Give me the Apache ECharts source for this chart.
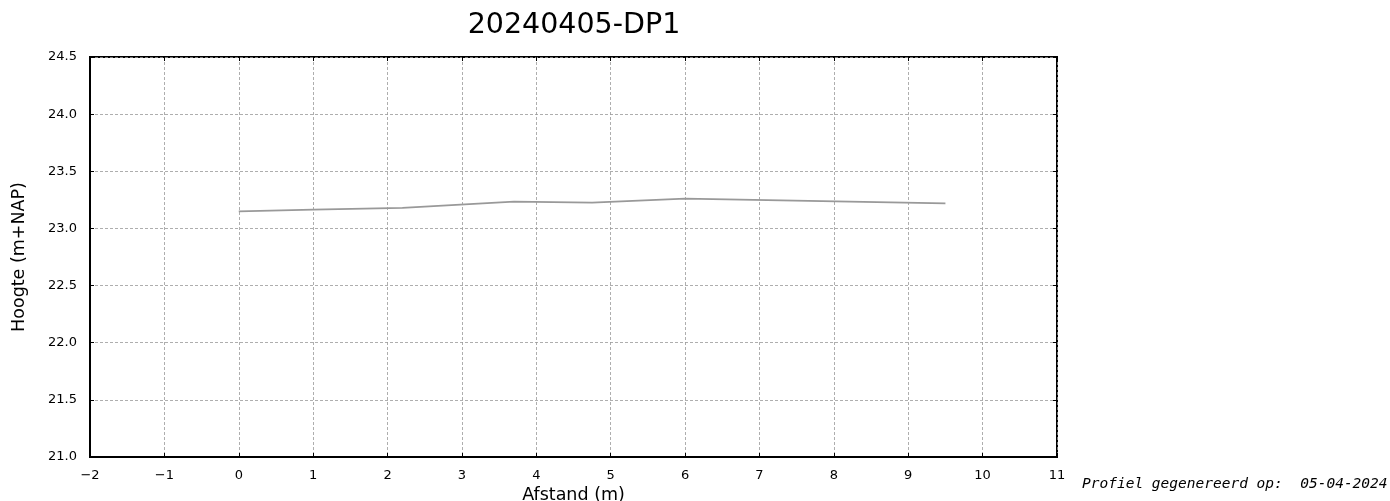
<!DOCTYPE html>
<html>
<head>
<meta charset="utf-8">
<script src="https://cdn.jsdelivr.net/npm/echarts@6/dist/echarts.min.js"></script>
<style>html,body{margin:0;padding:0;background:#fff;overflow:hidden}#c{width:1390px;height:501px}</style>
</head>
<body>
<div id="c"></div>
<script>
const titleText = "20240405-DP1";
const xName = "Afstand (m)";
const yName = "Hoogte (m+NAP)";
const footer = "Profiel gegenereerd op:  05-04-2024";
const distances = [0, 1, 2.2, 3.7, 4.75, 6.0, 9.5];
const heights = [23.15, 23.165, 23.18, 23.235, 23.225, 23.26, 23.22];
const xRange = [-2, 11];
const yRange = [21.0, 24.5];

const font = "DejaVu Sans";
const minus = v => String(v).replace('-', '\u2212');
const chart = echarts.init(document.getElementById('c'));
const data = distances.map((d, i) => [d, heights[i]]);
chart.setOption({
  animation: false,
  title: { text: titleText, left: 569, top: 6, textAlign: 'center',
    textStyle: { fontFamily: font, fontSize: 28.5, fontWeight: 'normal', color: '#000' } },
  grid: { left: 90, right: 333, top: 57, bottom: 44, outerBoundsMode: 'none', containLabel: false,
    show: true, borderColor: '#000', borderWidth: 2, backgroundColor: 'transparent' },
  xAxis: [{
    type: 'value', min: xRange[0], max: xRange[1], interval: 1,
    name: xName, nameLocation: 'middle', nameGap: 26,
    nameTextStyle: { fontFamily: font, fontSize: 17.5, color: '#000' },
    axisLine: { show: true, onZero: false, lineStyle: { color: '#000', width: 2 } },
    axisTick: { inside: true, length: 4, lineStyle: { color: '#000' } },
    axisLabel: { fontFamily: font, fontSize: 13, color: '#000', margin: 12, formatter: minus },
    splitLine: { show: true, lineStyle: { color: '#999', type: [3, 2], width: 0.8 } }
  }, {
    type: 'value', position: 'top', min: xRange[0], max: xRange[1], interval: 1,
    axisLine: { show: false, onZero: false }, axisTick: { inside: true, length: 4, lineStyle: { color: '#000' } },
    axisLabel: { show: false }, splitLine: { show: false }
  }],
  yAxis: [{
    type: 'value', min: yRange[0], max: yRange[1], interval: 0.5,
    name: yName, nameLocation: 'middle', nameGap: 62,
    nameTextStyle: { fontFamily: font, fontSize: 17.5, color: '#000' },
    axisLine: { show: true, onZero: false, lineStyle: { color: '#000', width: 2 } },
    axisTick: { inside: true, length: 4, lineStyle: { color: '#000' } },
    axisLabel: { fontFamily: font, fontSize: 13, color: '#000', margin: 13, formatter: v => v.toFixed(1) },
    splitLine: { show: true, lineStyle: { color: '#999', type: [3, 2], width: 0.8 } }
  }, {
    type: 'value', position: 'right', min: yRange[0], max: yRange[1], interval: 0.5,
    axisLine: { show: false, onZero: false }, axisTick: { inside: true, length: 4, lineStyle: { color: '#000' } },
    axisLabel: { show: false }, splitLine: { show: false }
  }],
  series: [{
    type: 'line', data: data, showSymbol: false, symbol: 'none',
    lineStyle: { color: '#999999', width: 1.8 }
  }],
  graphic: [{
    type: 'text', left: 1082, top: 477,
    style: { text: footer, font: 'italic 14.5px "DejaVu Sans Mono"', fill: '#000' }
  }]
});
</script>
</body>
</html>
